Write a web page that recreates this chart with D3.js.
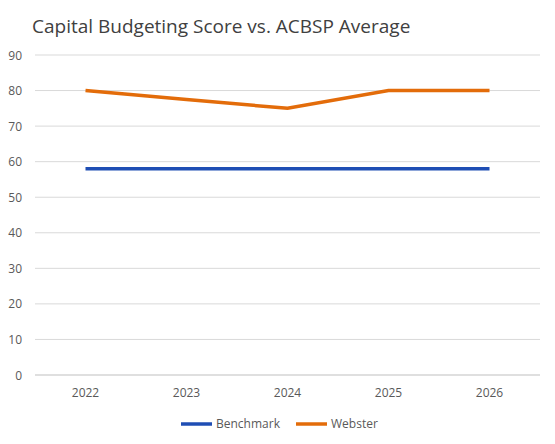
<!DOCTYPE html>
<html><head><meta charset="utf-8">
<script src="https://cdn.jsdelivr.net/npm/d3@7"></script>
<style>body{margin:0;background:#fff}text{font-family:"Open Sans",sans-serif}</style>
</head><body>
<script>
const years=["2022","2023","2024","2025","2026"];
const benchmark=[58,58,58,58,58];
const webster=[80,77.5,75,80,80];
const yTicks=[0,10,20,30,40,50,60,70,80,90];
const W=555,H=444;
const svg=d3.select("body").append("svg").attr("width",W).attr("height",H);
const x=d3.scaleBand().domain(years).range([35,540]);
const y=d3.scaleLinear().domain([0,90]).range([375,55]);
svg.append("text").attr("x",32).attr("y",33).attr("font-size",19).attr("fill","#404040").text("Capital Budgeting  Score vs. ACBSP Average");
svg.selectAll(".g").data(yTicks).enter().append("line").attr("x1",35).attr("x2",540)
 .attr("y1",d=>y(d)).attr("y2",d=>y(d)).attr("stroke",d=>d===0?"#bfbfbf":"#d9d9d9").attr("stroke-width",1);
svg.selectAll(".yl").data(yTicks).enter().append("text").attr("x",22).attr("y",d=>y(d)+4.5)
 .attr("text-anchor","end").attr("font-size",12).attr("fill","#595959").text(d=>d);
svg.selectAll(".xl").data(years).enter().append("text").attr("x",d=>x(d)+x.bandwidth()/2).attr("y",397)
 .attr("text-anchor","middle").attr("font-size",12).attr("fill","#595959").text(d=>d);
const line=d3.line().x((d,i)=>x(years[i])+x.bandwidth()/2).y(d=>y(d));
svg.append("path").attr("d",line(benchmark)).attr("fill","none").attr("stroke","#1f4eb4").attr("stroke-width",3.5);
svg.append("path").attr("d",line(webster)).attr("fill","none").attr("stroke","#e36c0a").attr("stroke-width",3.5);
const leg=[["Benchmark","#1f4eb4",181],["Webster","#e36c0a",296]];
leg.forEach(([n,c,lx])=>{
 svg.append("line").attr("x1",lx).attr("x2",lx+31).attr("y1",424).attr("y2",424).attr("stroke",c).attr("stroke-width",3.5);
 svg.append("text").attr("x",lx+35).attr("y",428).attr("font-size",12).attr("fill","#595959").text(n);
});
</script>
</body></html>
